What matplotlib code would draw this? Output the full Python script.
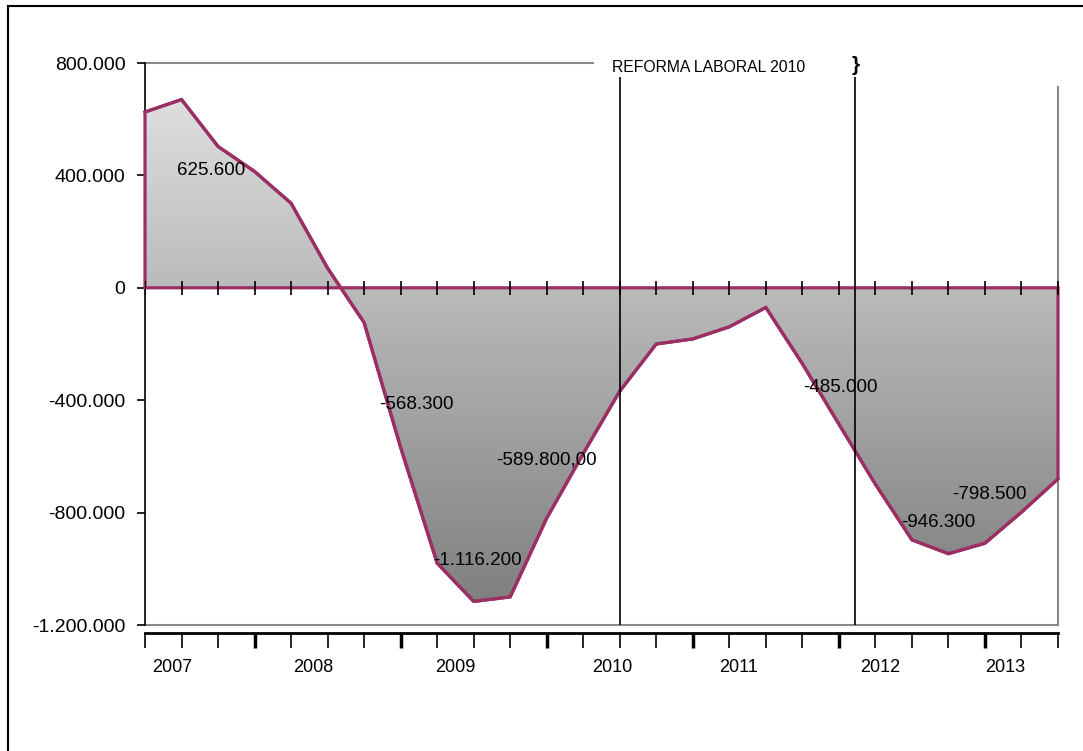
import matplotlib.pyplot as plt
import numpy as np
from matplotlib.colors import LinearSegmentedColormap
from matplotlib.lines import Line2D

plt.rcParams['font.family'] = ['Liberation Sans', 'DejaVu Sans']

# trimestres 2007T1 .. 2013T2
trimestres = [f"{a}T{t}" for a in range(2007, 2014) for t in range(1, 5)][:26]
valores = [625600, 670000, 503000, 414000, 301000, 70000, -124000, -568300,
           -980000, -1116200, -1100000, -820000, -589800, -368000, -200000,
           -182000, -139000, -70000, -270000, -485000, -699000, -897000,
           -946300, -909000, -798500, -680000]

anios = ['2007', '2008', '2009', '2010', '2011', '2012', '2013']
pos_anios = [0.74, 4.6, 8.49, 12.8, 16.24, 20.12, 23.55]

etiquetas = ['625.600', '-568.300', '-589.800,00', '-1.116.200', '-485.000', '-946.300', '-798.500']
pos_etiquetas = [(1.81, 418000), (7.42, -414000), (10.98, -614000), (9.09, -971000),
                 (19.03, -354000), (21.71, -836000), (23.11, -734000)]

reforma = [13, 19.45]  # lineas verticales

yticks = [800000, 400000, 0, -400000, -800000, -1200000]

x = np.arange(len(valores))
y = np.array(valores)

fig = plt.figure(figsize=(10.83, 7.51), dpi=100)
ax = fig.add_axes([145/1083, 1-625/751, 913/1083, 562/751])
ax.set_xlim(0, len(valores)-1)
ax.set_ylim(-1200000, 800000)

# marco gris del area de trazado
gris = '#8a8a8a'
ax.plot([0, 1], [0, 0], transform=ax.transAxes, color=gris, lw=1.5, clip_on=False, zorder=1)
ax.plot([1, 1], [0, 0.957], transform=ax.transAxes, color=gris, lw=1.5, clip_on=False, zorder=1)
ax.plot([0, 0.4907], [1, 1], transform=ax.transAxes, color=gris, lw=1.5, clip_on=False, zorder=1)

purpura = '#9b2f63'
# area con degradado
poli = ax.fill(np.r_[x[0], x, x[-1]], np.r_[0, y, 0], facecolor='none',
               edgecolor=purpura, lw=2.3, zorder=4, clip_on=False)[0]
cmap = LinearSegmentedColormap.from_list('gris', ['#dedede', '#808080'])
grad = np.linspace(0, 1, 256).reshape(-1, 1)
im = ax.imshow(grad, cmap=cmap, aspect='auto', extent=[x[0], x[-1], y.min(), y.max()],
               origin='upper', zorder=2)
im.set_clip_path(poli)
ax.plot(x, y, color=purpura, lw=2.3, zorder=5, clip_on=False)

# ticks sobre la linea de cero
ax.plot(x, np.zeros_like(x), ls='none', marker='|', ms=10, mew=1.2, color='black', zorder=6)

# lineas verticales
ax.vlines(reforma, -1200000, 750000, color='black', lw=1.2, zorder=6)
ax.text(12.79, 785000, 'REFORMA LABORAL 2010', fontsize=11.3, va='center', ha='left')
ax.text(19.45, 790000, '}', fontsize=15, fontweight='bold', va='center', ha='center')

# etiquetas de datos
for t, (px, py) in zip(etiquetas, pos_etiquetas):
    ax.text(px, py, t, fontsize=13.5, ha='center', va='center', zorder=7)

# ejes
for s in ['top', 'right']:
    ax.spines[s].set_visible(False)
ax.spines['left'].set_color('black')
ax.spines['left'].set_linewidth(1.2)
ax.spines['bottom'].set_position(('outward', 6))
ax.spines['bottom'].set_linewidth(2)
ax.spines['bottom'].set_bounds(0, len(valores)-1)

ax.set_yticks(yticks)
ax.set_yticklabels([f"{v:,.0f}".replace(',', '.') for v in yticks], fontsize=14)
ax.tick_params(axis='y', direction='out', length=6, width=1.2, pad=8)

gruesos = [i for i in x if i % 4 == 3]
finos = [i for i in x if i % 4 != 3]
ax.set_xticks(gruesos)
ax.set_xticks(finos, minor=True)
ax.set_xticklabels([])
ax.tick_params(axis='x', which='major', direction='out', length=11, width=2.5)
ax.tick_params(axis='x', which='minor', direction='out', length=11, width=1.2)

for a, px in zip(anios, pos_anios):
    ax.text(px, -0.075, a, transform=ax.get_xaxis_transform(), fontsize=13,
            ha='center', va='center')

# borde exterior
fig.add_artist(Line2D([8/1083, 1], [1-6/751, 1-6/751], color='black', lw=1.5))
fig.add_artist(Line2D([8/1083, 8/1083], [0, 1-6/751], color='black', lw=1.5))

fig.savefig('out.png', dpi=100)
